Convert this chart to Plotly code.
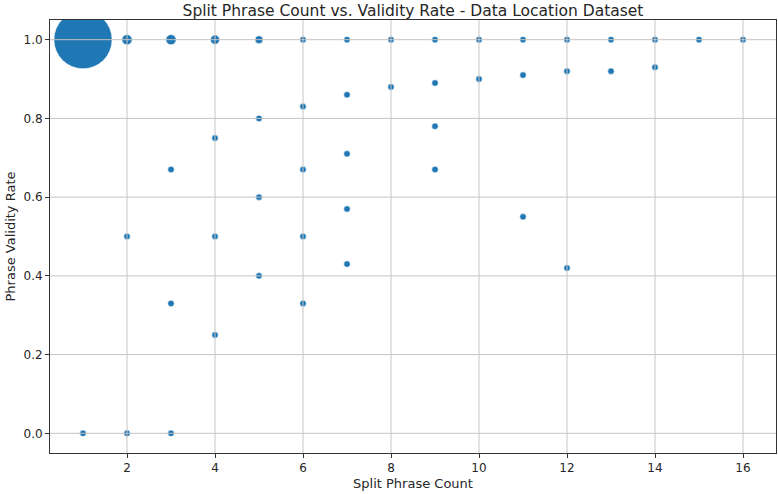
import plotly.graph_objects as go
import math

# Data
split_count = [1, 1,
               2, 2, 2,
               3, 3, 3, 3,
               4, 4, 4, 4,
               5, 5, 5, 5,
               6, 6, 6, 6, 6,
               7, 7, 7, 7, 7,
               8, 8,
               9, 9, 9, 9,
               10, 10,
               11, 11, 11,
               12, 12, 12,
               13, 13,
               14, 14,
               15,
               16]
validity_rate = [1.0, 0.0,
                 1.0, 0.5, 0.0,
                 1.0, 0.67, 0.33, 0.0,
                 1.0, 0.75, 0.5, 0.25,
                 1.0, 0.8, 0.6, 0.4,
                 1.0, 0.83, 0.67, 0.5, 0.33,
                 1.0, 0.86, 0.71, 0.57, 0.43,
                 1.0, 0.88,
                 1.0, 0.89, 0.78, 0.67,
                 1.0, 0.9,
                 1.0, 0.91, 0.55,
                 1.0, 0.92, 0.42,
                 1.0, 0.92,
                 1.0, 0.93,
                 1.0,
                 1.0]
occurrences = [160, 2,
               5, 2, 2,
               5, 2, 2, 2,
               4, 2, 2, 2,
               3, 2, 2, 2,
               2, 2, 2, 2, 2,
               2, 2, 2, 2, 2,
               2, 2,
               2, 2, 2, 2,
               2, 2,
               2, 2, 2,
               2, 2, 2,
               2, 2,
               2, 2,
               2,
               2]

x_ticks = [2, 4, 6, 8, 10, 12, 14, 16]
y_ticks = [0.0, 0.2, 0.4, 0.6, 0.8, 1.0]

marker_sizes = [4.6 * math.sqrt(c) for c in occurrences]

fig = go.Figure()
fig.add_trace(go.Scatter(
    x=split_count, y=validity_rate, mode="markers",
    marker=dict(size=marker_sizes, color="#1f77b4",
                line=dict(color="white", width=0.6), opacity=1),
    cliponaxis=True, showlegend=False,
))

# Grid lines drawn above the markers (as in the reference), placed at tick values
grid_style = dict(color="#c4c4c4", width=1)
for xv in x_ticks:
    fig.add_shape(type="line", xref="x", yref="paper", x0=xv, x1=xv, y0=0, y1=1,
                  line=grid_style, layer="above")
for yv in y_ticks:
    fig.add_shape(type="line", xref="paper", yref="y", x0=0, x1=1, y0=yv, y1=yv,
                  line=grid_style, layer="above")

axis_common = dict(
    showline=True, linecolor="#333333", linewidth=1, mirror=True,
    showgrid=False,
    zeroline=False, ticks="outside", ticklen=4, tickcolor="#333333",
    tickfont=dict(family="DejaVu Sans", size=12, color="#262626"),
    layer="above traces",
)

fig.update_layout(
    width=778, height=494,
    margin=dict(l=50, r=2, t=20, b=41),
    paper_bgcolor="white", plot_bgcolor="white",
    font=dict(family="DejaVu Sans", color="#262626"),
    title=dict(text="Split Phrase Count vs. Validity Rate - Data Location Dataset",
               x=(50 + 776) / 2 / 778, xanchor="center", y=1 - 11 / 494, yanchor="middle",
               font=dict(family="DejaVu Sans", size=15.5, color="#262626")),
    xaxis=dict(range=[0.25, 16.75], tickvals=x_ticks,
               title=dict(text="Split Phrase Count", font=dict(size=13), standoff=4),
               **axis_common),
    yaxis=dict(range=[-0.05, 1.05], tickvals=y_ticks, tickformat=".1f",
               title=dict(text="Phrase Validity Rate", font=dict(size=13), standoff=4),
               **axis_common),
)

fig.write_html("out.html")
